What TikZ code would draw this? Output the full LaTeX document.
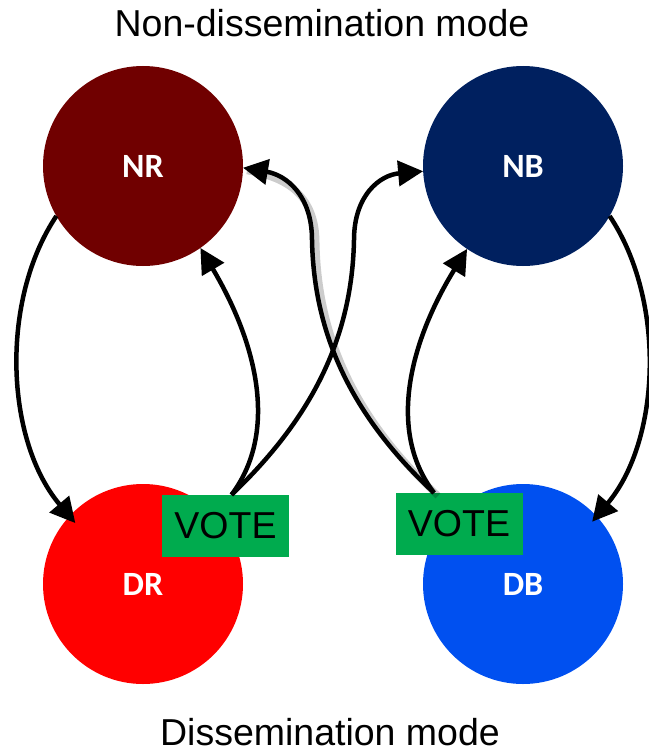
\documentclass[tikz,border=0pt]{standalone}
\usepackage{fontspec}
\setmainfont{Liberation Sans}
\newfontfamily\lblfont{Carlito}
\usetikzlibrary{arrows.meta,calc}
\definecolor{nrcol}{HTML}{700000}
\definecolor{nbcol}{HTML}{00205F}
\definecolor{drcol}{HTML}{FF0000}
\definecolor{dbcol}{HTML}{0050F0}
\definecolor{votecol}{HTML}{00AB4E}
\begin{document}
\begin{tikzpicture}[x=1pt,y=-1pt,
  state/.style={circle,minimum size=200pt,inner sep=0pt,outer sep=0pt,text=white,
    font=\lblfont\bfseries\fontsize{34}{38}\selectfont},
  vote/.style={fill=votecol,minimum width=127pt,minimum height=62pt,inner sep=0pt,
    font=\fontsize{37.5}{40}\selectfont},
  titletext/.style={font=\fontsize{37.5}{42}\selectfont,anchor=base},
  conn/.style={line width=4.5pt,-{Triangle[length=25pt,width=25pt]}},
  shadowline/.style={line width=7pt,draw=black,opacity=0.2}]
\useasboundingbox (0,0) rectangle (648,752);
\node[titletext] (top) at (322,37) {Non-dissemination mode};
\node[titletext] (bot) at (330,745) {Dissemination mode};
\node[state,fill=nrcol] (NR) at (143,166) {NR};
\node[state,fill=nbcol] (NB) at (523,166) {NB};
\node[state,fill=drcol] (DR) at (143,584) {DR};
\node[state,fill=dbcol] (DB) at (523,584) {DB};
\node[vote] (VL) at (225.5,526) {VOTE};
\node[vote] (VR) at (459,524) {VOTE};
\coordinate (sl) at ([xshift=6pt]VL.north);
\coordinate (sr) at ([xshift=-25pt]VR.north);
% shadow of the crossing arrow
\draw[shadowline,transform canvas={xshift=4pt,yshift=-3pt}]
  (sr) .. controls (356,420) and (314,340) .. (312,240)
  .. controls (312,195) and (286,175) .. (NR.-1);
% connectors
\draw[conn] (NR.210) .. controls (0,300) and (5,440) .. ($(DR.center)!0.91!(DR.138)$);
\draw[conn] (NB.330) .. controls (666,300) and (661,440) .. ($(DB.center)!0.93!(DB.42)$);
\draw[conn] (sl) .. controls (280,430) and (255,340) .. (NR.-55);
\draw[conn] (sl) .. controls (310,420) and (352,340) .. (354,240)
  .. controls (354,195) and (380,175) .. (NB.183);
\draw[conn] (sr) .. controls (356,420) and (314,340) .. (312,240)
  .. controls (312,195) and (286,175) .. (NR.-1);
\draw[conn] (sr) .. controls (386,430) and (411,340) .. (NB.236);
\end{tikzpicture}
\end{document}
